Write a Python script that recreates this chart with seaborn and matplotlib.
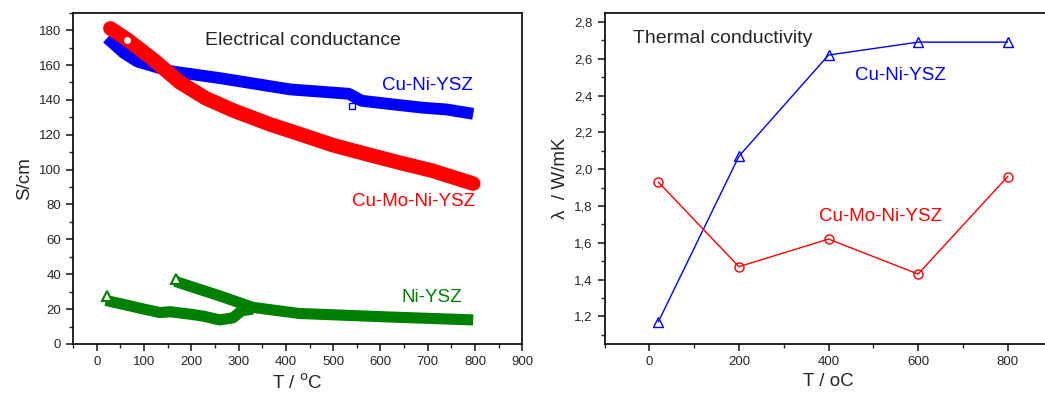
import matplotlib
matplotlib.use("Agg")
import matplotlib.pyplot as plt
import matplotlib.ticker as mticker
import seaborn as sns
import pandas as pd

sns.set_style("ticks")
plt.rcParams['font.family'] = ['Liberation Sans', 'DejaVu Sans']

# electrical conductance, S/cm vs T (degC)
cuni_T = [22, 57, 86, 155, 260, 409, 533, 560, 640, 690, 740, 796]
cuni_S = [175.5, 167, 162, 156.5, 152.5, 146, 143.5, 139.5, 137, 135.5, 134.5, 132]
cumo_T = [29, 65, 120, 176, 230, 288, 366, 428, 500, 569, 640, 708, 796]
cumo_S = [181, 174.5, 163, 150, 141, 134, 126, 120.5, 114, 109, 104, 99.5, 92]
ni1_T = [19, 60, 100, 134, 155, 200, 225, 260, 288, 306, 330]
ni1_S = [25, 22.5, 20, 18, 18.5, 17, 16, 13.8, 15, 19, 20]
ni2_T = [166, 176, 260, 330, 428, 618, 796]
ni2_S = [36, 35, 27.6, 21, 17.5, 15.5, 13.8]

# thermal conductivity, W/mK
th_T = [20, 200, 400, 600, 800]
th_cuni = [1.17, 2.07, 2.62, 2.69, 2.69]
th_cumo = [1.93, 1.47, 1.62, 1.43, 1.96]

blue, red, green = '#0000ff', '#ff0000', '#008000'

fig = plt.figure(figsize=(10.45, 3.98), dpi=100)
ax1 = fig.add_axes([0.0699, 0.1357, 0.430, 0.8324])
ax2 = fig.add_axes([0.5785, 0.1357, 0.4287, 0.8324])

# left panel: thick bands of dense points
sns.lineplot(x=cuni_T, y=cuni_S, ax=ax1, color=blue, linewidth=8.5,
             sort=False, solid_capstyle='butt')
sns.lineplot(x=cumo_T, y=cumo_S, ax=ax1, color=red, linewidth=10.5,
             sort=False, solid_capstyle='round')
sns.lineplot(x=ni1_T, y=ni1_S, ax=ax1, color=green, linewidth=8,
             sort=False, solid_capstyle='butt')
sns.lineplot(x=ni2_T, y=ni2_S, ax=ax1, color=green, linewidth=8,
             sort=False, solid_capstyle='butt')
ax1.plot([ni1_T[0] + 3, ni2_T[0] + 2], [ni1_S[0] + 2.5, ni2_S[0] + 1],
         ls='none', marker='^', ms=7, mfc='white', mec=green, mew=1.5)
ax1.plot([540], [136.5], ls='none', marker='s', ms=5, mfc='white', mec=blue, mew=1)
ax1.plot([cumo_T[1]], [cumo_S[1]], ls='none', marker='o', ms=4, mfc='white', mec='white')

ax1.set_xlim(-50, 900)
ax1.set_ylim(0, 190)
ax1.xaxis.set_major_locator(mticker.MultipleLocator(100))
ax1.xaxis.set_minor_locator(mticker.MultipleLocator(50))
ax1.yaxis.set_major_locator(mticker.MultipleLocator(20))
ax1.yaxis.set_minor_locator(mticker.MultipleLocator(10))
ax1.set_xlabel('T / $^{\\rm o}$C', fontsize=13.5)
ax1.set_ylabel('S/cm', fontsize=13.5)
ax1.text(229, 174, 'Electrical conductance', fontsize=14, va='center')
ax1.text(603, 148, 'Cu-Ni-YSZ', fontsize=13.5, color=blue, va='center')
ax1.text(540, 82, 'Cu-Mo-Ni-YSZ', fontsize=13.5, color=red, va='center')
ax1.text(645, 26.5, 'Ni-YSZ', fontsize=13.5, color=green, va='center')

# right panel
sns.lineplot(x=th_T, y=th_cuni, ax=ax2, color=blue, linewidth=1, marker='^',
             markersize=7, markerfacecolor='none', markeredgecolor=blue, markeredgewidth=1)
sns.lineplot(x=th_T, y=th_cumo, ax=ax2, color=red, linewidth=1, marker='o',
             markersize=6.5, markerfacecolor='none', markeredgecolor=red, markeredgewidth=1)
ax2.set_xlim(-100, 900)
ax2.set_ylim(1.05, 2.85)
ax2.xaxis.set_major_locator(mticker.MultipleLocator(200))
ax2.xaxis.set_minor_locator(mticker.MultipleLocator(100))
ax2.yaxis.set_major_locator(mticker.MultipleLocator(0.2))
ax2.yaxis.set_minor_locator(mticker.MultipleLocator(0.1))
ax2.yaxis.set_major_formatter(mticker.FuncFormatter(lambda v, p: f'{v:.1f}'.replace('.', ',')))
ax2.set_xlabel('T / oC', fontsize=13.5)
ax2.set_ylabel('λ  / W/mK', fontsize=13.5)
ax2.text(-36, 2.71, 'Thermal conductivity', fontsize=14, va='center')
ax2.text(460, 2.51, 'Cu-Ni-YSZ', fontsize=13.5, color=blue, va='center')
ax2.text(378, 1.745, 'Cu-Mo-Ni-YSZ', fontsize=13.5, color=red, va='center')

for ax in (ax1, ax2):
    for s in ax.spines.values():
        s.set_linewidth(1.2)
        s.set_color('black')
    ax.tick_params(which='major', direction='out', length=5, width=1.2, labelsize=9.5)
    ax.tick_params(which='minor', direction='out', length=3, width=1)
ax2.spines['right'].set_visible(False)

fig.savefig('out.png', dpi=100)
